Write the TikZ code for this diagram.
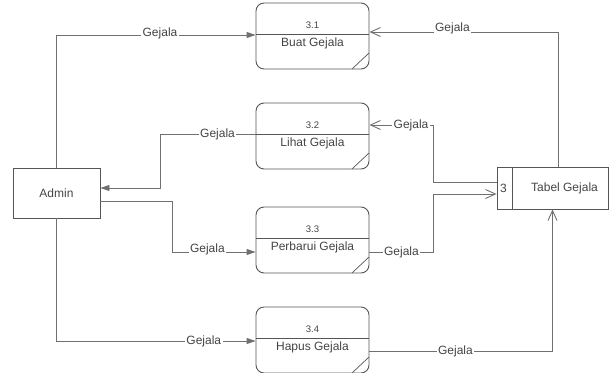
\documentclass[tikz,border=0pt]{standalone}
\usepackage{fontspec}
\setmainfont{Liberation Sans}
\usetikzlibrary{arrows.meta,calc}
\definecolor{linec}{HTML}{707070}
\definecolor{boxc}{HTML}{555555}
\definecolor{txtc}{HTML}{444444}

\tikzset{
  proc/.style={draw=boxc, line width=0.9pt, rounded corners=8pt,
    minimum width=113pt, minimum height=66pt, inner sep=0pt,
    path picture={
      \draw[boxc, line width=0.9pt]
        ([yshift=-31pt]path picture bounding box.north west) --
        ([yshift=-31pt]path picture bounding box.north east);
      \draw[boxc, line width=0.7pt]
        ([xshift=-17pt]path picture bounding box.south east) --
        ([yshift=16pt]path picture bounding box.south east);
    }},
  entity/.style={draw=boxc, line width=0.9pt, minimum width=87pt,
    minimum height=50pt, inner sep=0pt, text=txtc,
    font=\fontsize{12}{14}\selectfont},
  store/.style={draw=boxc, line width=0.9pt, minimum width=111pt,
    minimum height=42pt, inner sep=0pt,
    path picture={
      \draw[boxc, line width=0.9pt]
        ([xshift=15pt]path picture bounding box.north west) --
        ([xshift=15pt]path picture bounding box.south west);
    }},
  procnum/.style={text=txtc, inner sep=0pt, font=\fontsize{9.5}{11}\selectfont},
  procname/.style={text=txtc, inner sep=0pt, font=\fontsize{12}{14}\selectfont},
  flow/.style={draw=linec, line width=0.9pt},
  toentity/.style={flow, -{Triangle[length=9pt,width=6pt]}},
  tostore/.style={flow, -{Straight Barb[length=10pt,width=9pt,line width=0.9pt]}},
  lbl/.style={fill=white, inner sep=1.5pt, text=txtc,
    font=\fontsize{12}{14}\selectfont},
}

\begin{document}
\begin{tikzpicture}[x=1pt,y=-1pt]
\useasboundingbox (0,0) rectangle (609,372);

% external entity and data store
\node[entity] (admin) at (56.5,193) {Admin};
\node[store] (tabel) at (552.5,188) {};
\node[procname] (tabelnum) at ($(tabel.west)+(7,0)$) {3};
\node[procname] (tabeltxt) at ($(tabel.center)+(12,0)$) {Tabel Gejala};

% processes
\node[proc] (p1) at (312.5,36) {};
\node[procnum] (p1n) at ($(p1.north)+(0,23)$) {3.1};
\node[procname] (p1t) at ($(p1.north)+(0,41)$) {Buat Gejala};

\node[proc] (p2) at (312.5,136) {};
\node[procnum] (p2n) at ($(p2.north)+(0,23)$) {3.2};
\node[procname] (p2t) at ($(p2.north)+(0,41)$) {Lihat Gejala};

\node[proc] (p3) at (312.5,240) {};
\node[procnum] (p3n) at ($(p3.north)+(0,23)$) {3.3};
\node[procname] (p3t) at ($(p3.north)+(0,41)$) {Perbarui Gejala};

\node[proc] (p4) at (312.5,340) {};
\node[procnum] (p4n) at ($(p4.north)+(0,23)$) {3.4};
\node[procname] (p4t) at ($(p4.north)+(0,41)$) {Hapus Gejala};

% data flows
\draw[toentity] (admin.north) |- node[lbl, pos=0.76, yshift=2pt] {Gejala} ([yshift=1pt]p1.west);
\draw[tostore] ([xshift=5.5pt]tabel.north) |- node[lbl, pos=0.78, yshift=4pt] {Gejala} ([yshift=4pt]p1.east);

\draw[tostore] ([yshift=6pt]tabel.west) -| ($([yshift=11pt]p2.east)+(64,0)$)
  -- node[lbl, pos=0.35] {Gejala} ([yshift=11pt]p2.east);
\draw[toentity] ([yshift=2pt]p2.west) -- node[lbl, pos=0.4] {Gejala} ++(-95,0)
  |- ([yshift=5pt]admin.east);

\draw[toentity] ([yshift=-8pt]admin.east) -- ++(72,0)
  |- node[lbl, pos=0.71, yshift=3pt] {Gejala} ([yshift=-12pt]p3.west);
\draw[tostore] ([yshift=-12pt]p3.east) -- node[lbl] {Gejala} ++(64,0)
  |- ([yshift=-6pt]tabel.west);

\draw[toentity] (admin.south) |- node[lbl, pos=0.87] {Gejala} ([yshift=-1pt]p4.west);
\draw[tostore] ([yshift=-11pt]p4.east) -| node[lbl, pos=0.235] {Gejala} (tabel.south);
\end{tikzpicture}
\end{document}
